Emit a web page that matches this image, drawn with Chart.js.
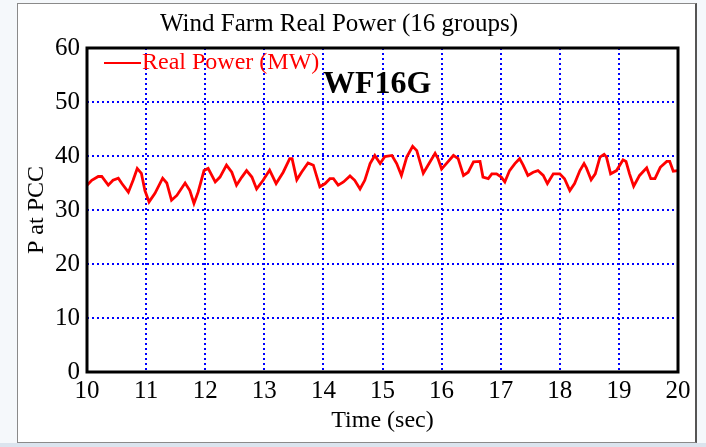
<!DOCTYPE html>
<html>
<head>
<meta charset="utf-8">
<script src="https://cdn.jsdelivr.net/npm/chart.js@4.4.0/dist/chart.umd.min.js"></script>
<style>
  body { margin: 0; background: #f5f8fb; }
  #frame { position: absolute; left: 17px; top: 3px; width: 677px; height: 438px; background: #fff; border: 1px solid #8a8a8a; border-right: 2px solid #555; }
  #strip { position: absolute; left: 0; top: 443px; width: 706px; height: 4px; background: #dbe4ee; }
  #wrap { position: absolute; left: 0; top: 0; width: 706px; height: 447px; }
</style>
</head>
<body>
<div id="frame"></div>
<div id="strip"></div>
<div id="wrap"><canvas id="mycanvas" width="706" height="447"></canvas></div>
<script>
var timeSec = [10.00, 10.08, 10.19, 10.25, 10.36, 10.44, 10.53, 10.59, 10.70, 10.78, 10.85, 10.92, 10.98,
  11.05, 11.15, 11.28, 11.35, 11.43, 11.52, 11.66, 11.74, 11.81, 11.88, 11.98,
  12.05, 12.17, 12.25, 12.36, 12.45, 12.53, 12.62, 12.70, 12.79, 12.87, 12.98,
  13.09, 13.20, 13.32, 13.43, 13.47, 13.55, 13.63, 13.74, 13.83, 13.94,
  14.03, 14.11, 14.17, 14.25, 14.34, 14.45, 14.53, 14.62, 14.70, 14.79, 14.87, 14.96,
  15.04, 15.16, 15.24, 15.32, 15.41, 15.51, 15.58, 15.69, 15.77, 15.89, 15.94,
  16.00, 16.08, 16.20, 16.28, 16.37, 16.45, 16.54, 16.65, 16.70, 16.79, 16.85, 16.93,
  17.01, 17.07, 17.15, 17.24, 17.32, 17.38, 17.46, 17.55, 17.63, 17.72, 17.79, 17.89,
  18.00, 18.08, 18.17, 18.25, 18.34, 18.41, 18.45, 18.53, 18.60, 18.68, 18.75, 18.79, 18.86, 18.96,
  19.07, 19.12, 19.18, 19.25, 19.35, 19.47, 19.54, 19.61, 19.70, 19.81, 19.86, 19.92, 20.00];
var realPower = [34.6, 35.5, 36.2, 36.2, 34.6, 35.5, 35.9, 34.9, 33.3, 35.5, 37.7, 36.8, 33.6,
  31.5, 33.1, 35.9, 35.0, 31.8, 32.7, 35.0, 33.6, 31.2, 33.3, 37.3,
  37.7, 35.2, 36.1, 38.3, 37.0, 34.6, 36.1, 37.3, 36.1, 33.9, 35.5,
  37.4, 34.9, 37.0, 39.5, 39.5, 35.6, 37.0, 38.7, 38.3, 34.3,
  34.9, 35.8, 35.8, 34.6, 35.2, 36.3, 35.5, 33.9, 35.5, 38.6, 40.1, 38.6,
  39.9, 40.1, 38.6, 36.4, 39.8, 41.8, 41.0, 36.8, 38.3, 40.5, 39.5,
  37.6, 38.6, 40.1, 39.5, 36.4, 37.0, 38.9, 39.0, 36.1, 35.8, 36.7, 36.7,
  36.1, 35.2, 37.3, 38.6, 39.5, 38.3, 36.4, 37.0, 37.3, 36.4, 34.9, 36.7,
  36.7, 35.8, 33.6, 34.9, 37.3, 38.6, 37.8, 35.6, 36.7, 39.8, 40.3, 39.8, 36.7, 37.3,
  39.3, 39.0, 36.7, 34.4, 36.4, 37.8, 35.8, 35.8, 37.9, 39.0, 39.0, 37.2, 37.3];
var xTicks = [10, 11, 12, 13, 14, 15, 16, 17, 18, 19, 20];
var yTicks = [0, 10, 20, 30, 40, 50, 60];

var serif = "'Liberation Serif', 'Times New Roman', serif";

var points = [];
for (var i in timeSec) {
  points.push({ x: timeSec[i], y: realPower[i] });
}

// frame, legend and label drawn on top of the plot
var extras = {
  id: 'extras',
  afterDraw: function(chart) {
    var ctx = chart.ctx;
    var a = chart.chartArea;
    ctx.save();
    ctx.strokeStyle = '#000';
    ctx.lineWidth = 3;
    ctx.strokeRect(a.left, a.top, a.right - a.left, a.bottom - a.top);

    ctx.strokeStyle = '#ff0000';
    ctx.lineWidth = 2;
    ctx.beginPath();
    ctx.moveTo(a.left + 17, a.top + 15);
    ctx.lineTo(a.left + 54, a.top + 15);
    ctx.stroke();
    ctx.fillStyle = '#ff0000';
    ctx.font = '24px ' + serif;
    ctx.textBaseline = 'alphabetic';
    ctx.fillText('Real Power (MW)', a.left + 55, a.top + 21);

    ctx.fillStyle = '#000';
    ctx.font = 'bold 32px ' + serif;
    ctx.fillText('WF16G', 323, 93);
    ctx.restore();
  }
};

var ctx = document.getElementById('mycanvas');
var chart = new Chart(ctx, {
  type: 'scatter',
  data: {
    datasets: [{
      label: 'Real Power (MW)',
      data: points,
      showLine: true,
      borderColor: '#ff0000',
      borderWidth: 2.8,
      pointRadius: 0,
      tension: 0
    }]
  },
  options: {
    responsive: false,
    animation: false,
    layout: { padding: { top: 0, right: 28, bottom: 0, left: 0 } },
    plugins: {
      legend: { display: false },
      tooltip: { enabled: false },
      title: {
        display: true,
        text: 'Wind Farm Real Power (16 groups)',
        color: '#000',
        font: { family: serif, size: 25, weight: 'normal', lineHeight: 1 },
        padding: { top: 12, bottom: 11 }
      }
    },
    scales: {
      x: {
        type: 'linear',
        min: 10,
        max: 20,
        afterBuildTicks: function(scale) {
          scale.ticks = xTicks.map(function(v) { return { value: v }; });
        },
        afterFit: function(scale) { scale.height = 75; },
        border: { display: false, dash: [2, 3] },
        grid: { color: '#0000ff', lineWidth: 2, drawTicks: false },
        ticks: { color: '#000', padding: 7, maxRotation: 0, font: { family: serif, size: 25, lineHeight: 1 } },
        title: {
          display: true,
          text: 'Time (sec)',
          color: '#000',
          font: { family: serif, size: 24, lineHeight: 1 },
          padding: { top: 0, bottom: 14 }
        }
      },
      y: {
        min: 0,
        max: 60,
        afterBuildTicks: function(scale) {
          scale.ticks = yTicks.map(function(v) { return { value: v }; });
        },
        afterFit: function(scale) { scale.width = 87; },
        border: { display: false, dash: [2, 3] },
        grid: { color: '#0000ff', lineWidth: 2, drawTicks: false },
        ticks: { color: '#000', padding: 7, font: { family: serif, size: 25, lineHeight: 1 } },
        title: {
          display: true,
          text: 'P at PCC',
          color: '#000',
          font: { family: serif, size: 24, lineHeight: 1 },
          padding: { top: 25, bottom: 0 }
        }
      }
    }
  },
  plugins: [extras]
});
</script>
</body>
</html>
